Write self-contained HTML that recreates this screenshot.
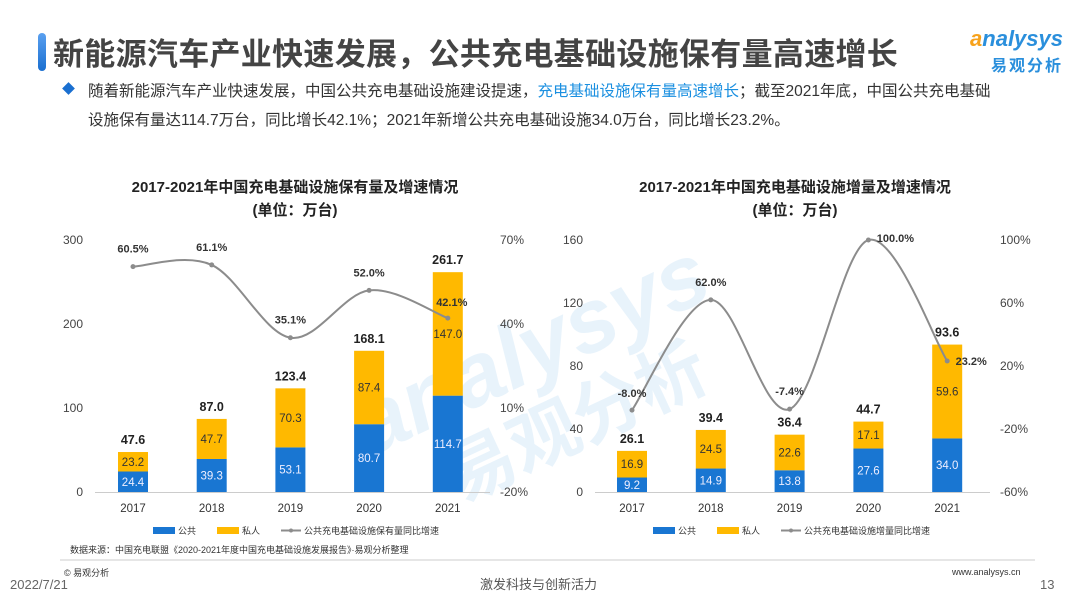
<!DOCTYPE html>
<html><head><meta charset="utf-8">
<style>
body{margin:0;width:1080px;height:608px;overflow:hidden;background:#fff;font-family:"Liberation Sans","Noto Sans CJK SC",sans-serif;position:relative;color:#333}
.abs{position:absolute;white-space:nowrap}
</style></head>
<body>
<div class="abs" style="left:38px;top:33px;width:8px;height:38px;border-radius:4px;background:linear-gradient(#5aa0f0,#1a6fd0)"></div>
<div class="abs" style="left:53px;top:29px;font-size:31px;font-weight:bold;color:#444;letter-spacing:0.3px;font-family:'Noto Sans CJK SC',sans-serif">新能源汽车产业快速发展，公共充电基础设施保有量高速增长</div>
<div class="abs" style="left:955px;top:28px;text-align:right;width:108px">
<div style="font-size:22px;font-style:italic;font-weight:bold;color:#2a8fdc;line-height:22px"><span style="color:#f7a21b">a</span>nalysys</div>
<div style="font-size:16px;font-weight:bold;color:#2a8fdc;letter-spacing:2px;margin-top:2px;font-family:'Noto Sans CJK SC',sans-serif">易观分析</div>
</div>
<div class="abs" style="left:64px;top:84px;width:9px;height:9px;background:#1a6fd0;transform:rotate(45deg)"></div>
<div class="abs" style="left:88px;top:77px;font-size:15.5px;line-height:29px;color:#333;font-family:'Liberation Sans','Noto Sans CJK SC',sans-serif">随着新能源汽车产业快速发展，中国公共充电基础设施建设提速，<span style="color:#1a8fe0">充电基础设施保有量高速增长</span>；截至2021年底，中国公共充电基础<br>设施保有量达114.7万台，同比增长42.1%；2021年新增公共充电基础设施34.0万台，同比增长23.2%。</div>

<svg class="abs" style="left:0;top:0" width="1080" height="608">
<g id="wm" opacity="0.1">
<text x="330" y="390" font-size="90" font-weight="bold" font-style="italic" fill="#2a8fdc" transform="rotate(-25 500 330)">analysys</text>
<text x="390" y="470" font-size="70" font-weight="bold" fill="#2a8fdc" transform="rotate(-25 500 330)" font-family="Noto Sans CJK SC">易观分析</text>
</g>
<g id="c1"></g><g id="c2"></g>
<line x1="60" y1="560" x2="1035" y2="560" stroke="#ccc"/>
</svg>

<div class="abs" style="left:70px;top:543px;font-size:9px;color:#333">数据来源：中国充电联盟《2020-2021年度中国充电基础设施发展报告》·易观分析整理</div>
<div class="abs" style="left:64px;top:566px;font-size:9px;color:#333">© 易观分析</div>
<div class="abs" style="left:10px;top:577px;font-size:13px;color:#666">2022/7/21</div>
<div class="abs" style="left:480px;top:574px;font-size:13px;color:#555">激发科技与创新活力</div>
<div class="abs" style="left:952px;top:567px;font-size:9px;color:#333">www.analysys.cn</div>
<div class="abs" style="left:1040px;top:577px;font-size:13px;color:#666">13</div>

<script>
const years=["2017","2018","2019","2020","2021"];
const pub1=[24.4,39.3,53.1,80.7,114.7];
const priv1=[23.2,47.7,70.3,87.4,147.0];
const tot1=[47.6,87.0,123.4,168.1,261.7];
const rate1=[60.5,61.1,35.1,52.0,42.1];
const leftTicks1=[0,100,200,300];
const rightTicks1=[-20,10,40,70];
const pub2=[9.2,14.9,13.8,27.6,34.0];
const priv2=[16.9,24.5,22.6,17.1,59.6];
const tot2=[26.1,39.4,36.4,44.7,93.6];
const rate2=[-8.0,62.0,-7.4,100.0,23.2];
const leftTicks2=[0,40,80,120,160];
const rightTicks2=[-60,-20,20,60,100];
const NS="http://www.w3.org/2000/svg";
function mk(p,t,a,txt){const e=document.createElementNS(NS,t);for(const k in a)e.setAttribute(k,a[k]);if(txt!==undefined)e.textContent=txt;p.appendChild(e);return e;}
function smooth(pts){let d="M"+pts[0][0]+","+pts[0][1];for(let i=0;i<pts.length-1;i++){const p0=pts[Math.max(0,i-1)],p1=pts[i],p2=pts[i+1],p3=pts[Math.min(pts.length-1,i+2)];const c1=[p1[0]+(p2[0]-p0[0])/6,p1[1]+(p2[1]-p0[1])/6],c2=[p2[0]-(p3[0]-p1[0])/6,p2[1]-(p3[1]-p1[1])/6];d+=" C"+c1+" "+c2+" "+p2;}return d;}
function chart(g,o){
 const y0=492,y1=240;
 const yL=v=>y0-(v-o.lmin)/(o.lmax-o.lmin)*(y0-y1);
 const yR=v=>y0-(v-o.rmin)/(o.rmax-o.rmin)*(y0-y1);
 const xC=i=>o.x0+i*o.dx;
 let e;
 e=mk(g,"text",{x:o.cx,y:192,"text-anchor":"middle","font-size":15,"font-weight":"bold",fill:"#222"},o.title);
 
 e=mk(g,"text",{x:o.cx,y:215,"text-anchor":"middle","font-size":15,"font-weight":"bold",fill:"#222"},"(单位：万台)");
 
 e=mk(g,"line",{x1:o.ax0,x2:o.ax1,y1:y0+0.5,y2:y0+0.5,stroke:"#ccc"});
 
 o.lt.forEach(v=>{e=mk(g,"text",{x:o.lx,y:yL(v)+4,"text-anchor":"end","font-size":12,fill:"#444"},v);
 });
 o.rt.forEach(v=>{e=mk(g,"text",{x:o.rx,y:yR(v)+4,"font-size":12,fill:"#444"},v+"%");
 });
 years.forEach((yr,i)=>{
  const x=xC(i),w=30;
  const yp=yL(o.pub[i]),yt=yL(o.pub[i]+o.priv[i]);
  e=mk(g,"rect",{x:x-w/2,y:yp,width:w,height:y0-yp,fill:"#1976d2"});
  
  e=mk(g,"rect",{x:x-w/2,y:yt,width:w,height:yp-yt,fill:"#ffb900"});
  
  e=mk(g,"text",{x:x,y:(yp+y0)/2+4,"text-anchor":"middle","font-size":11.5,fill:"#eef"},o.pub[i].toFixed(1));
  
  e=mk(g,"text",{x:x,y:(yt+yp)/2+4,"text-anchor":"middle","font-size":11.5,fill:"#333"},o.priv[i].toFixed(1));
  
  e=mk(g,"text",{x:x,y:yt-8,"text-anchor":"middle","font-size":12.5,"font-weight":"bold",fill:"#222"},o.tot[i].toFixed(1));
  
  e=mk(g,"text",{x:x,y:512,"text-anchor":"middle","font-size":11.5,fill:"#333"},yr);
  
 });
 const pts=o.rate.map((v,i)=>[xC(i),yR(v)]);
 e=mk(g,"path",{d:smooth(pts),fill:"none",stroke:"#8c8c8c","stroke-width":2});
 
 pts.forEach((p,i)=>{
  e=mk(g,"circle",{cx:p[0],cy:p[1],r:2.5,fill:"#8c8c8c"});
  
  const off=o.lblOff[i];
  e=mk(g,"text",{x:p[0]+off[0],y:p[1]+off[1],"text-anchor":"middle","font-size":11,"font-weight":"bold",fill:"#333"},o.rate[i].toFixed(1)+"%");
  
 });
 const lg=o.lgx;
 e=mk(g,"rect",{x:lg,y:527,width:22,height:7,fill:"#1976d2"});
 e=mk(g,"text",{x:lg+25,y:534,"font-size":9,fill:"#333"},"公共");
 e=mk(g,"rect",{x:lg+64,y:527,width:22,height:7,fill:"#ffb900"});
 e=mk(g,"text",{x:lg+89,y:534,"font-size":9,fill:"#333"},"私人");
 e=mk(g,"line",{x1:lg+128,x2:lg+148,y1:530.5,y2:530.5,stroke:"#8c8c8c","stroke-width":2});
 e=mk(g,"circle",{cx:lg+138,cy:530.5,r:2,fill:"#8c8c8c"});
 e=mk(g,"text",{x:lg+151,y:534,"font-size":9,fill:"#333"},o.lgtxt);
}
chart(document.getElementById("c1"),{title:"2017-2021年中国充电基础设施保有量及增速情况",cx:295,x0:133,dx:78.7,lmin:0,lmax:300,rmin:-20,rmax:70,lt:leftTicks1,rt:rightTicks1,lx:83,rx:500,ax0:95,ax1:490,pub:pub1,priv:priv1,tot:tot1,rate:rate1,lgx:153,lgtxt:"公共充电基础设施保有量同比增速",lblOff:[[0,-14],[0,-14],[0,-14],[0,-14],[4,-12]]});
chart(document.getElementById("c2"),{title:"2017-2021年中国充电基础设施增量及增速情况",cx:795,x0:632,dx:78.8,lmin:0,lmax:160,rmin:-60,rmax:100,lt:leftTicks2,rt:rightTicks2,lx:583,rx:1000,ax0:595,ax1:990,pub:pub2,priv:priv2,tot:tot2,rate:rate2,lgx:653,lgtxt:"公共充电基础设施增量同比增速",lblOff:[[0,-13],[0,-14],[0,-14],[27,2],[24,4]]});
</script>
</body></html>
